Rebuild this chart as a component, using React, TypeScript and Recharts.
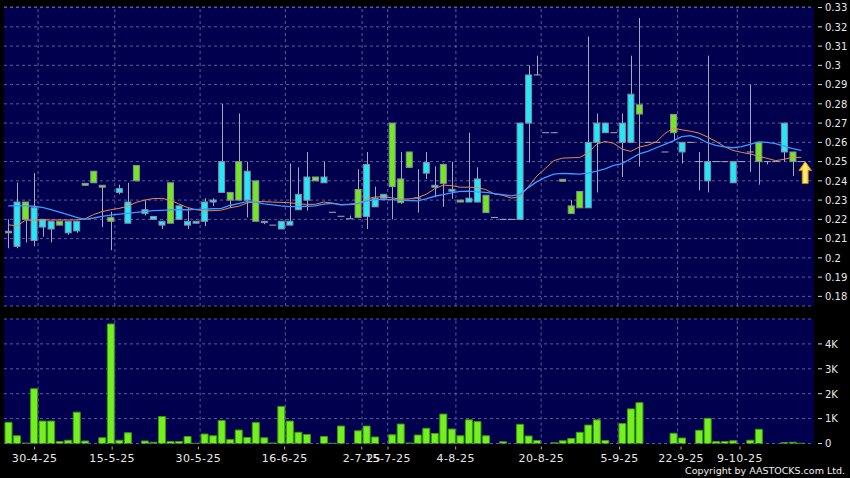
import { ComposedChart, Bar, Line, XAxis, YAxis, CartesianGrid, ReferenceLine, ReferenceDot } from "recharts"

// [open, high, low, close] per trading day
const ohlc: [number, number, number, number][] = [
  [0.2138, 0.22, 0.205, 0.213], [0.206, 0.239, 0.205, 0.229], [0.229, 0.229, 0.208, 0.22], [0.209, 0.244, 0.206, 0.226],
  [0.216, 0.22, 0.211, 0.22], [0.215, 0.219, 0.208, 0.219], [0.219, 0.219, 0.217, 0.217], [0.213, 0.219, 0.212, 0.219],
  [0.214, 0.219, 0.213, 0.219], [0.2387, 0.2387, 0.2377, 0.2377], [0.245, 0.245, 0.239, 0.239], [0.2377, 0.2377, 0.216, 0.2367],
  [0.221, 0.224, 0.204, 0.219], [0.234, 0.238, 0.233, 0.236], [0.218, 0.239, 0.218, 0.229], [0.248, 0.248, 0.24, 0.24],
  [0.223, 0.23, 0.222, 0.225], [0.22, 0.2215, 0.22, 0.2215], [0.217, 0.219, 0.215, 0.219], [0.239, 0.239, 0.218, 0.218],
  [0.22, 0.227, 0.22, 0.227], [0.217, 0.226, 0.215, 0.219], [0.218, 0.219, 0.218, 0.219], [0.219, 0.231, 0.2165, 0.229],
  [0.229, 0.231, 0.227, 0.23], [0.234, 0.28, 0.234, 0.25], [0.234, 0.234, 0.226, 0.23], [0.25, 0.275, 0.23, 0.23],
  [0.23, 0.25, 0.221, 0.245], [0.24, 0.24, 0.219, 0.219], [0.2183, 0.219, 0.2175, 0.219], [0.217, 0.217, 0.217, 0.217],
  [0.215, 0.219, 0.215, 0.219], [0.217, 0.249, 0.217, 0.219], [0.225, 0.247, 0.225, 0.233], [0.23, 0.255, 0.2245, 0.242],
  [0.242, 0.242, 0.24, 0.24], [0.239, 0.25, 0.239, 0.242], [0.2237, 0.2237, 0.2237, 0.2237], [0.2216, 0.2216, 0.2216, 0.2216],
  [0.2203, 0.222, 0.2203, 0.2203], [0.2355, 0.246, 0.221, 0.221], [0.2215, 0.255, 0.215, 0.2485], [0.2265, 0.237, 0.2265, 0.231],
  [0.231, 0.233, 0.231, 0.233], [0.27, 0.27, 0.22, 0.237], [0.241, 0.255, 0.228, 0.2287], [0.255, 0.255, 0.247, 0.247],
  [0.231, 0.246, 0.2235, 0.231], [0.244, 0.255, 0.241, 0.2495], [0.2367, 0.2475, 0.2315, 0.2377], [0.2485, 0.249, 0.2265, 0.2387],
  [0.2346, 0.25, 0.2307, 0.2356], [0.23, 0.23, 0.229, 0.229], [0.229, 0.265, 0.229, 0.231], [0.229, 0.247, 0.229, 0.241],
  [0.2325, 0.2325, 0.2235, 0.2235], [0.221, 0.221, 0.221, 0.221], [0.22, 0.22, 0.22, 0.22], [0.22, 0.22, 0.22, 0.22],
  [0.22, 0.27, 0.22, 0.27], [0.27, 0.3, 0.2495, 0.295], [0.295, 0.305, 0.295, 0.295], [0.265, 0.265, 0.265, 0.265],
  [0.265, 0.265, 0.265, 0.265], [0.2408, 0.2408, 0.2398, 0.2398], [0.227, 0.23, 0.223, 0.223], [0.2345, 0.2345, 0.226, 0.226],
  [0.226, 0.315, 0.226, 0.26], [0.26, 0.275, 0.234, 0.27], [0.265, 0.27, 0.265, 0.27], [0.265, 0.265, 0.265, 0.265],
  [0.26, 0.275, 0.242, 0.27], [0.26, 0.305, 0.26, 0.285], [0.2795, 0.3246, 0.2474, 0.2747], [0.26, 0.26, 0.26, 0.26],
  [0.26, 0.26, 0.26, 0.26], [0.255, 0.255, 0.255, 0.255], [0.2745, 0.2745, 0.261, 0.265], [0.255, 0.26, 0.249, 0.26],
  [0.26, 0.26, 0.26, 0.26], [0.25, 0.255, 0.235, 0.25], [0.24, 0.305, 0.234, 0.25], [0.25, 0.25, 0.25, 0.25],
  [0.25, 0.25, 0.25, 0.25], [0.239, 0.25, 0.239, 0.25], [0.25, 0.25, 0.25, 0.25], [0.255, 0.29, 0.2447, 0.255],
  [0.26, 0.26, 0.238, 0.25], [0.25, 0.25, 0.2485, 0.25], [0.25, 0.25, 0.25, 0.25], [0.255, 0.27, 0.25, 0.27],
  [0.255, 0.255, 0.2425, 0.25], [0.25, 0.25, 0.25, 0.25],
]

const volume = [
  850, 310, 15, 2200, 900, 900, 80, 130, 1260, 100,
  0, 230, 4800, 130, 430, 0, 100, 50, 1080, 80,
  80, 280, 10, 380, 310, 920, 160, 540, 240, 840,
  230, 20, 1490, 900, 450, 360, 0, 280, 10, 700,
  0, 510, 700, 260, 0, 350, 780, 20, 340, 610,
  400, 1180, 580, 310, 950, 880, 310, 0, 70, 0,
  770, 300, 120, 0, 30, 110, 200, 450, 740, 950,
  120, 0, 800, 1390, 1640, 0, 0, 0, 410, 220,
  0, 530, 1010, 80, 80, 110, 0, 130, 570, 0,
  0, 40, 50, 10,
]

const maShort = [
  0.2172, 0.2166, 0.2195, 0.2197, 0.2197, 0.2197, 0.2197, 0.2197, 0.2197, 0.2203,
  0.2225, 0.224, 0.225, 0.2257, 0.2268, 0.2288, 0.23, 0.2308, 0.2309, 0.23,
  0.228, 0.2262, 0.225, 0.2245, 0.2245, 0.2248, 0.226, 0.2268, 0.2285, 0.2292,
  0.2292, 0.229, 0.2288, 0.2286, 0.2281, 0.2278, 0.2278, 0.229, 0.2285, 0.2276,
  0.2276, 0.228, 0.2305, 0.2316, 0.2318, 0.2312, 0.2305, 0.2306, 0.2313, 0.233,
  0.2358, 0.2378, 0.2375, 0.2367, 0.2367, 0.2365, 0.2355, 0.2332, 0.2325, 0.231,
  0.2318, 0.237, 0.2425, 0.2465, 0.2505, 0.2518, 0.252, 0.2521, 0.2545, 0.259,
  0.2605, 0.2595, 0.2565, 0.2553, 0.2576, 0.2585, 0.2603, 0.2645, 0.2675, 0.2665,
  0.2658, 0.2648, 0.2628, 0.2605, 0.2578, 0.2558, 0.2548, 0.254, 0.2528, 0.2517,
  0.2505, 0.2512, 0.2522, 0.2522,
]

const maLong = [
  0.227, 0.227, 0.227, 0.2268, 0.2262, 0.225, 0.2238, 0.2225, 0.221, 0.22,
  0.2207, 0.2215, 0.2222, 0.2227, 0.2231, 0.2236, 0.224, 0.2245, 0.2247, 0.2249,
  0.225, 0.225, 0.2252, 0.2253, 0.2255, 0.2257, 0.2272, 0.2282, 0.2292, 0.229,
  0.228, 0.2275, 0.227, 0.2266, 0.2266, 0.2268, 0.227, 0.2279, 0.2283, 0.2276,
  0.2279, 0.2283, 0.2295, 0.2302, 0.2304, 0.2302, 0.23, 0.2298, 0.2296, 0.2307,
  0.232, 0.2328, 0.2338, 0.2345, 0.2347, 0.2343, 0.234, 0.2334, 0.2328, 0.2322,
  0.233, 0.2365, 0.2396, 0.2418, 0.2435, 0.2439, 0.2437, 0.2435, 0.244, 0.245,
  0.2462, 0.248, 0.249, 0.2515, 0.254, 0.2553, 0.2572, 0.259, 0.2608, 0.263,
  0.2635, 0.2622, 0.2598, 0.2584, 0.2577, 0.2572, 0.2578, 0.259, 0.2602, 0.26,
  0.2593, 0.258, 0.2568, 0.2558,
]

const SLOTS = 95
const gridAt = [4, 13, 23, 33, 42, 45, 53, 63, 72, 79, 86]
const dateLabels = ["30-4-25", "15-5-25", "30-5-25", "16-6-25", "2-7-25", "15-7-25", "4-8-25", "20-8-25", "5-9-25", "22-9-25", "9-10-25"]
// small pixel nudges of each date label relative to its grid line
const labelNudge = [-3.5, -2.7, -1.7, -0.7, -0.3, 0.3, -0.2, 0.2, 1.7, 3.5, 2.7]
const priceTicks = [0.18, 0.19, 0.2, 0.21, 0.22, 0.23, 0.24, 0.25, 0.26, 0.27, 0.28, 0.29, 0.3, 0.31, 0.32, 0.33]
const volumeTicks = [0, 1000, 2000, 3000, 4000]

const BG = "#00004e"
const GRID = "#5c5c9c"
const CYAN = "#22e8f8"
const GREEN = "#72e81e"
const EDGE = "#8c8ca0"
const WICK = "#a8a8bc"
const FONT = "DejaVu Sans"

// volume panel: plot bottom inside its own svg
const VOL_H = 168
const VOL_AXIS_H = 34.5
const VOL_BOTTOM = VOL_H - VOL_AXIS_H

const data = Array.from({ length: SLOTS }, (_, i) => {
  const c = ohlc[i]
  if (!c) return { i, pos: i + 0.5 }
  return {
    i,
    pos: i + 0.5,
    o: c[0], h: c[1], l: c[2], c: c[3],
    range: [c[2], c[1]],
    vol: volume[i],
    ma10: maShort[i],
    ma20: maLong[i],
  }
})

function Candle(props: any) {
  const { x, y, width, height, payload } = props
  if (!payload || payload.o == null) return null
  const { o, h, l, c } = payload
  const top = Math.min(y, y + height)
  const span = Math.abs(height)
  const toY = (v: number) => (h > l ? top + ((h - v) / (h - l)) * span : top)
  const cx = Math.round(x + width / 2) + 0.5
  const yo = toY(o)
  const yc = toY(c)
  const up = c > o
  const down = c < o
  return (
    <g>
      {h > l && <line x1={cx} x2={cx} y1={top} y2={top + span} stroke={WICK} strokeWidth={1} />}
      {up || down ? (
        <rect
          x={x + 0.5}
          y={Math.min(yo, yc)}
          width={width - 1}
          height={Math.max(Math.abs(yo - yc), 1)}
          fill={up ? CYAN : GREEN}
          stroke={EDGE}
          strokeWidth={1}
        />
      ) : (
        <line x1={x} x2={x + width} y1={yo} y2={yo} stroke={WICK} strokeWidth={1} />
      )}
    </g>
  )
}

function LastArrow(props: any) {
  const { cx, cy } = props
  const x = cx + 4
  const y = cy
  const d = `M${x},${y} L${x + 6.5},${y + 9} L${x + 3},${y + 9} L${x + 3},${y + 22} L${x - 3},${y + 22} L${x - 3},${y + 9} L${x - 6.5},${y + 9} Z`
  return (
    <g>
      <defs>
        <linearGradient id="arrowFill" x1="0" y1="0" x2="1" y2="0">
          <stop offset="0%" stopColor="#e8a810" />
          <stop offset="50%" stopColor="#fff27a" />
          <stop offset="100%" stopColor="#e8a810" />
        </linearGradient>
      </defs>
      <path d={d} fill="url(#arrowFill)" stroke="#c88a00" strokeWidth={0.8} />
    </g>
  )
}

function RightTick(props: any) {
  const { x, y, payload, fmt } = props
  return (
    <g>
      <line x1={x + 4} x2={x + 8} y1={y} y2={y} stroke="#d8d8d8" />
      <text x={x + 11} y={y} dy={3.8} fill="#e8e8e8" fontSize={10} fontFamily={FONT}>
        {fmt(payload.value)}
      </text>
    </g>
  )
}

function DateTick(props: any) {
  const { payload } = props
  const idx = gridAt.indexOf(payload.value)
  const x = props.x + (labelNudge[idx] ?? 0)
  const y = VOL_BOTTOM
  return (
    <g>
      <line x1={x} x2={x} y1={y + 3} y2={y + 6} stroke="#b0b0b0" />
      <text x={x} y={y + 18} textAnchor="middle" fill="#e8e8e8" fontSize={11} letterSpacing={0.4} fontFamily={FONT}>
        {dateLabels[idx] ?? ""}
      </text>
    </g>
  )
}

const priceFmt = (v: number) => String(Number(v.toFixed(2)))
const volFmt = (v: number) => (v === 0 ? "0" : `${v / 1000}K`)

export default function App() {
  return (
    <div style={{ position: "fixed", left: 0, top: 0, width: 850, height: 478, background: "#000", overflow: "hidden" }}>
      <div style={{ position: "absolute", left: 0, top: 0 }}>
        <ComposedChart width={850} height={310} data={data} margin={{ top: 7, right: 0, bottom: 4, left: 4 }}>
          <CartesianGrid horizontal vertical={false} stroke={GRID} strokeDasharray="3 3" fill={BG} fillOpacity={1} />
          <XAxis xAxisId="c" dataKey="i" type="category" hide />
          <XAxis xAxisId="g" dataKey="pos" type="number" domain={[0, SLOTS]} allowDataOverflow hide />
          <YAxis
            orientation="right"
            width={36}
            domain={[0.175, 0.3303]}
            allowDataOverflow
            ticks={priceTicks}
            interval={0}
            axisLine={false}
            tickLine={false}
            tickSize={0}
            tickMargin={0}
            tick={<RightTick fmt={priceFmt} />}
          />
          {gridAt.map((g) => (
            <ReferenceLine key={g} xAxisId="g" x={g} stroke={GRID} strokeDasharray="3 3" />
          ))}
          <Bar xAxisId="c" dataKey="range" barSize={7} shape={<Candle />} isAnimationActive={false} />
          <Line xAxisId="c" dataKey="ma10" type="linear" stroke="#e8894e" strokeWidth={1} dot={false} activeDot={false} isAnimationActive={false} />
          <Line xAxisId="c" dataKey="ma20" type="linear" stroke="#3a9cff" strokeWidth={1.3} dot={false} activeDot={false} isAnimationActive={false} />
          <ReferenceDot xAxisId="c" x={93} y={ohlc[93][3]} r={0} shape={<LastArrow />} />
        </ComposedChart>
      </div>
      <div style={{ position: "absolute", left: 0, top: 310 }}>
        <ComposedChart width={850} height={VOL_H} data={data} margin={{ top: 9, right: 0, bottom: 0, left: 4 }}>
          <CartesianGrid horizontal vertical={false} stroke={GRID} strokeDasharray="3 3" fill={BG} fillOpacity={1} />
          <XAxis xAxisId="c" dataKey="i" type="category" hide />
          <XAxis
            xAxisId="g"
            dataKey="pos"
            type="number"
            domain={[0, SLOTS]}
            allowDataOverflow
            ticks={gridAt}
            interval={0}
            height={VOL_AXIS_H}
            axisLine={false}
            tickLine={false}
            tickSize={0}
            tickMargin={0}
            tick={<DateTick />}
          />
          <YAxis
            orientation="right"
            width={36}
            domain={[0, 5000]}
            allowDataOverflow
            ticks={volumeTicks}
            interval={0}
            axisLine={false}
            tickLine={false}
            tickSize={0}
            tickMargin={0}
            tick={<RightTick fmt={volFmt} />}
          />
          {gridAt.map((g) => (
            <ReferenceLine key={g} xAxisId="g" x={g} stroke={GRID} strokeDasharray="3 3" />
          ))}
          <Bar xAxisId="c" dataKey="vol" barSize={7} fill="#74f01e" stroke="#3c9a12" strokeWidth={1} isAnimationActive={false} />
        </ComposedChart>
      </div>
      <div
        style={{
          position: "absolute",
          right: 5,
          top: 465,
          color: "#f0f0f0",
          fontFamily: FONT,
          fontSize: 9.5,
          lineHeight: "12px",
          whiteSpace: "nowrap",
        }}
      >
        Copyright by AASTOCKS.com Ltd.
      </div>
    </div>
  )
}
